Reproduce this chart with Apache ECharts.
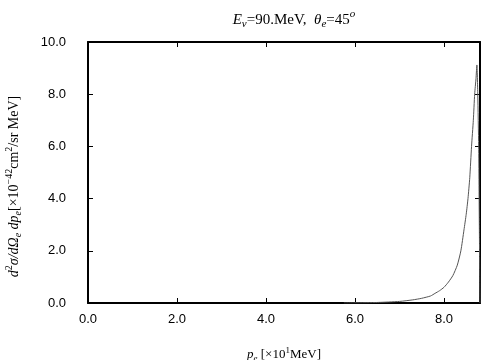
<!DOCTYPE html>
<html>
<head>
<meta charset="utf-8">
<script src="https://cdn.jsdelivr.net/npm/echarts@6/dist/echarts.min.js"></script>
<style>
  html, body { margin: 0; padding: 0; background: #fff; }
  #chart { width: 504px; height: 360px; }
</style>
</head>
<body>
<div id="chart"></div>
<script>
// electron momentum spectrum, E_nu = 90 MeV, theta_e = 45 deg
const pe = [5.75, 6.0, 6.5, 7.0, 7.3, 7.5, 7.7, 7.8, 7.9, 8.0, 8.1, 8.2, 8.3, 8.38, 8.45,
  8.5, 8.54, 8.58, 8.62, 8.66, 8.69, 8.72, 8.74, 8.76, 8.78, 8.795, 8.81];
const xsec = [0.0, 0.005, 0.02, 0.06, 0.12, 0.18, 0.27, 0.37, 0.47, 0.6, 0.8, 1.05, 1.45, 2.0, 2.8,
  3.4, 4.0, 4.8, 6.0, 7.0, 8.0, 8.6, 9.12, 8.0, 6.0, 3.0, 0.0];
const xTicks = [0, 2, 4, 6, 8];
const yTicks = [0, 2, 4, 6, 8, 10];

const serif = '"Liberation Serif", "DejaVu Serif", serif';
const sans = '"Liberation Sans", Arial, sans-serif';

// rich text styles with sub/superscripts at a given size
function makeRich(size) {
  const base = { fontFamily: serif, color: '#000', fontWeight: 'normal' };
  const small = Math.round(size * 0.7);
  return {
    n: { ...base, fontSize: size },
    i: { ...base, fontSize: size, fontStyle: 'italic' },
    sub: { ...base, fontSize: small, fontStyle: 'italic', padding: [Math.round(size * 0.55), 0, 0, 0] },
    sup: { ...base, fontSize: small, padding: [0, 0, Math.round(size * 0.7), 0] },
    supi: { ...base, fontSize: small, fontStyle: 'italic', padding: [0, 0, Math.round(size * 0.7), 0] }
  };
}

const chart = echarts.init(document.getElementById('chart'));

const frame = {
  axisLine: { show: true, onZero: false, lineStyle: { color: '#000', width: 2 } },
  axisTick: { show: true, inside: true, length: 5, lineStyle: { color: '#000', width: 1 } },
  splitLine: { show: false }
};

const option = {
  animation: false,
  title: {
    text: '{i|E}{sub|ν}{n|=90.MeV,  }{i|θ}{sub|e}{n|=45}{supi|o}',
    left: 289,
    textAlign: 'center',
    top: 4,
    textStyle: { fontWeight: 'normal', rich: makeRich(15) }
  },
  grid: { left: 88, right: 24, top: 42, bottom: 57, outerBoundsMode: 'none' },
  xAxis: [{
    type: 'value',
    min: 0,
    max: 8.81,
    interval: 2,
    name: '{i|p}{sub|e}{n| [×10}{sup|1}{n|MeV]}',
    nameLocation: 'middle',
    nameGap: 43,
    nameTextStyle: { rich: makeRich(13) },
    ...frame,
    axisLabel: {
      showMaxLabel: false,
      margin: 10,
      fontFamily: sans,
      fontSize: 13,
      color: '#000',
      formatter: v => xTicks.includes(v) ? v.toFixed(1) : ''
    }
  }, {
    type: 'value',
    position: 'top',
    min: 0,
    max: 8.81,
    interval: 2,
    ...frame,
    axisLabel: { show: false }
  }],
  yAxis: [{
    type: 'value',
    min: 0,
    max: 10,
    interval: 2,
    name: '{i|d}{sup|2}{i|σ/dΩ}{sub|e}{i| dp}{sub|e}{n|[×10}{sup|−42}{n|cm}{sup|2}{n|/sr MeV]}',
    nameLocation: 'middle',
    nameRotate: 90,
    nameGap: 64,
    nameTextStyle: { rich: makeRich(14), padding: [0, 28, 0, 0] },
    ...frame,
    axisLabel: {
      margin: 22,
      fontFamily: sans,
      fontSize: 13,
      color: '#000',
      formatter: v => yTicks.includes(v) ? v.toFixed(1) : ''
    }
  }, {
    type: 'value',
    position: 'right',
    min: 0,
    max: 10,
    interval: 2,
    ...frame,
    axisLabel: { show: false }
  }],
  series: [{
    type: 'line',
    data: pe.map((x, k) => [x, xsec[k]]),
    showSymbol: false,
    smooth: 0.2,
    clip: true,
    lineStyle: { color: '#555', width: 1 }
  }]
};

chart.setOption(option);
</script>
</body>
</html>
